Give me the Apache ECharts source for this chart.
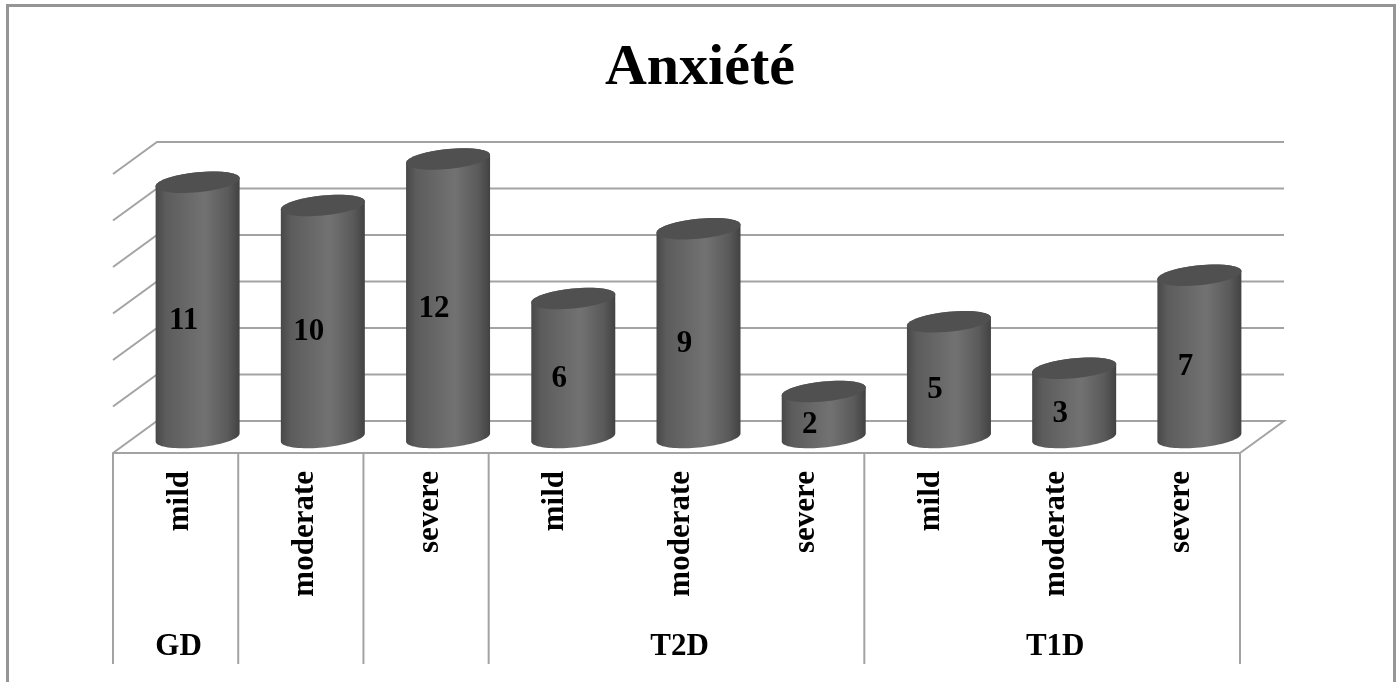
<!DOCTYPE html>
<html><head><meta charset="utf-8">
<style>html,body{margin:0;padding:0;background:#fff;overflow:hidden}
#c{position:absolute;left:0;top:0;width:1397px;height:682px}
#f{position:absolute;left:6px;top:4px;width:1384px;height:690px;border:3px solid #959595;box-sizing:content-box;pointer-events:none}</style>
<script src="https://cdn.jsdelivr.net/npm/echarts@6/dist/echarts.min.js"></script>
</head><body><div id="f"></div><div id="c"></div>
<script>
const titleText = 'Anxiété';
const severity = ['mild','moderate','severe','mild','moderate','severe','mild','moderate','severe'];
const groupLabels = ['GD','','','','T2D','','','T1D',''];
const values = [11,10,12,6,9,2,5,3,7];
const gridTicks = [0,2,4,6,8,10,12];
const dividerEdges = [0,1,2,3,6,9];

const serif = '"Liberation Serif","Times New Roman",serif';
const LINE = '#a3a3a3';
const DEPTH_X = 44, DEPTH_Y = -32, BAR_W = 84, RY = 10, TILT = 4;

function ellipsePts(cx, cy, from, to, n) {
  const pts = [];
  for (let i = 0; i <= n; i++) {
    const t = from + (to - from) * i / n;
    pts.push([cx + BAR_W / 2 * Math.cos(t), cy + RY * Math.sin(t) - TILT * Math.cos(t)]);
  }
  return pts;
}
function cylinder(params, api) {
  const v = api.value(1);
  const base = api.coord([api.value(0), 0]);
  const top = api.coord([api.value(0), v]);
  const cx = base[0] + DEPTH_X / 2;
  const by = base[1] + DEPTH_Y / 2 + 0.5;
  const ty = top[1] + DEPTH_Y / 2 + 1;
  const body = ellipsePts(cx, ty, Math.PI, 2 * Math.PI, 40).concat(ellipsePts(cx, by, 0, Math.PI, 40));
  const gradient = new echarts.graphic.LinearGradient(0, 0, 1, 0, [
    {offset: 0, color: '#484848'},
    {offset: 0.12, color: '#5c5c5c'},
    {offset: 0.58, color: '#727272'},
    {offset: 0.86, color: '#5a5a5a'},
    {offset: 1, color: '#424242'}
  ]);
  return {type: 'group', children: [
    {type: 'polygon', shape: {points: body}, style: {fill: gradient}},
    {type: 'polygon', shape: {points: ellipsePts(cx, ty, 0, 2 * Math.PI, 60)}, style: {fill: '#505050'}},
    {type: 'text', x: cx - 14, y: (base[1] + top[1]) / 2 - 4.5,
      style: {text: String(v), font: 'bold 31px ' + serif, fill: '#000', align: 'center', verticalAlign: 'middle'}}
  ]};
}
function wall(params, api) {
  const band = api.size([1, 0])[0];
  const p = api.coord([0, api.value(0)]);
  const xl = p[0] - band / 2, y = p[1];
  const pts = [[xl, y], [xl + DEPTH_X, y + DEPTH_Y], [xl + 9 * band + DEPTH_X, y + DEPTH_Y]];
  if (api.value(0) === 0) pts.push([xl + 9 * band, y]);
  return {type: 'polyline', shape: {points: pts}, style: {stroke: LINE, lineWidth: 2, fill: 'none'}};
}
function divider(params, api) {
  const band = api.size([1, 0])[0];
  const p = api.coord([0, 0]);
  const x = p[0] - band / 2 + api.value(0) * band;
  return {type: 'line', shape: {x1: x, y1: p[1], x2: x, y2: p[1] + 211}, style: {stroke: LINE, lineWidth: 2}};
}

const chart = echarts.init(document.getElementById('c'), null, {renderer: 'canvas'});
chart.setOption({
  animation: false,
  backgroundColor: 'transparent',
  title: {text: titleText, left: 700, top: 32, textAlign: 'center', padding: [5, 10, 5, 0],
    textStyle: {fontFamily: serif, fontWeight: 'bold', fontSize: 58, color: '#000', lineHeight: 64}},
  grid: {left: 113, right: 157, top: 174, bottom: 229},
  xAxis: [
    {type: 'category', data: severity, position: 'bottom',
      axisLine: {show: true, lineStyle: {color: LINE, width: 2}}, axisTick: {show: false},
      axisLabel: {interval: 0, rotate: 90, margin: 18, align: 'right', verticalAlign: 'top',
        lineHeight: 8,
        color: '#000', fontFamily: serif, fontWeight: 'bold', fontSize: 31}},
    {type: 'category', data: groupLabels, position: 'bottom',
      axisLine: {show: false}, axisTick: {show: false},
      axisLabel: {interval: 0, margin: 178, padding: [0, 0, 0, 6], color: '#000', fontFamily: serif, fontWeight: 'bold', fontSize: 31}}
  ],
  yAxis: {type: 'value', min: 0, max: 12, interval: 2, show: false, splitLine: {show: false}},
  series: [
    {type: 'custom', name: 'walls', z: 1, silent: true, renderItem: wall, data: gridTicks.map(v => [v]), encode: {y: 0}},
    {type: 'custom', name: 'dividers', z: 1, silent: true, renderItem: divider, data: dividerEdges.map(v => [v]), encode: {x: 0}},
    {type: 'custom', name: 'Anxiété', z: 3, renderItem: cylinder, data: values.map((v, i) => [i, v]), encode: {x: 0, y: 1}}
  ]
});
</script></body></html>
